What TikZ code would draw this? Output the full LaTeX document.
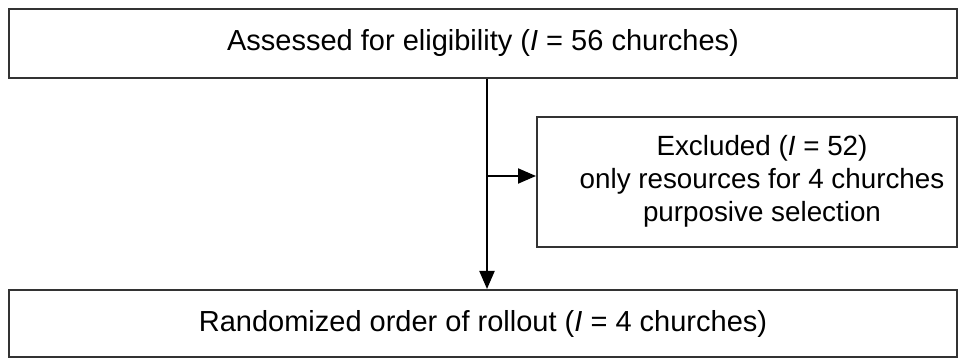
\documentclass[tikz,border=0pt]{standalone}
\usepackage{fontspec}
\setmainfont{Liberation Sans}
\usetikzlibrary{calc,
arrows.meta,
positioning}

\begin{document}
\begin{tikzpicture} [x=1pt,
    y=-1pt,
    >={Triangle[length=18pt, width=15pt]},
    line width=2pt,
    font=\fontsize{29}{33}\selectfont,
    main node/.style={rectangle, draw=black!80, fill=white,
        line width=2pt, inner sep=0pt, align=center}
  ]

  \useasboundingbox (0, 0) rectangle (959, 358);

  \node [main node,
    minimum width = 948pt,
    minimum height = 69pt
  ] (assess) at (483, 43.5) {Assessed for eligibility (\textit{I} = 56 churches)};

  \node [main node,
    minimum width = 420pt,
    minimum height = 130pt
  ] (excl) at (747, 182) {};

  \node [align=center,
    font=\fontsize{27.8}{33}\selectfont
  ] (excltext) at ($(excl.center) + (15, -1)$) {Excluded (\textit{I} = 52)\\only resources for 4 churches\\purposive selection};

  \node [main node,
    minimum width = 948pt,
    minimum height = 67pt
  ] (rand) at (483, 323.5) {Randomized order of rollout (\textit{I} = 4 churches)};

  %%%%%%%%%%%%%%%%%%%%%%%%%%%%%%

  \coordinate (split) at (487, 176);

  \draw [->] (assess.south -| split) -- (rand.north -| split);
  \draw [->] (split) -- (split -| excl.west);

\end{tikzpicture}
\end{document}
